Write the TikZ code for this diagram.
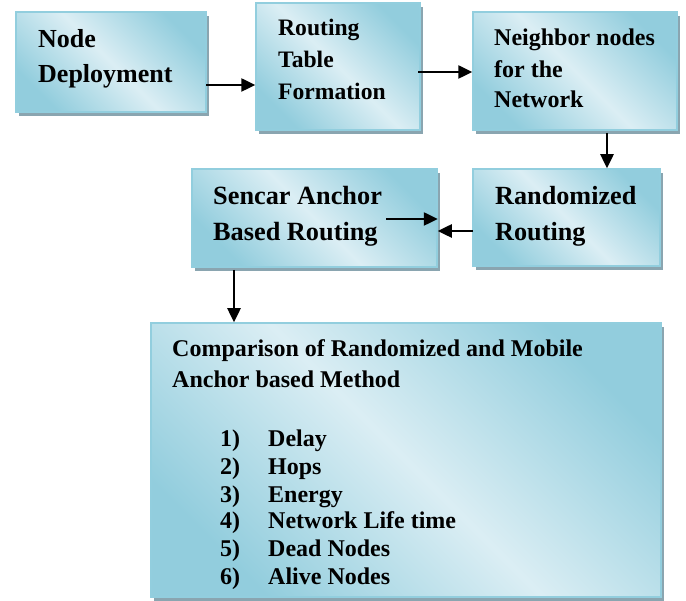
\documentclass[tikz,border=0pt]{standalone}
\usepackage{fontspec}
\setmainfont{Liberation Serif}
\usetikzlibrary{shadows,arrows.meta,calc}
\definecolor{bdark}{RGB}{146,205,221}
\definecolor{blight}{RGB}{219,238,244}
\definecolor{bedge}{RGB}{146,206,222}
\definecolor{shgray}{RGB}{138,165,176}
\tikzset{
  box/.style={rectangle, draw=bedge, line width=1.5pt, inner sep=0pt,
    top color=bdark, bottom color=bdark, middle color=blight, shading angle=-45,
    drop shadow={shadow xshift=3pt, shadow yshift=-4pt, fill=shgray, opacity=1}},
  txt/.style={anchor=base west, inner sep=0pt, font=\bfseries\fontsize{#1}{#1}\selectfont},
  txt/.default=24,
  arr/.style={line width=2.5pt, -{Triangle[length=14pt,width=13pt]}},
}
\begin{document}
\begin{tikzpicture}[x=1pt,y=-1pt]
\useasboundingbox (0,0) rectangle (686,601);
% boxes
\node[box, minimum width=190pt, minimum height=100pt] (b1) at (111,62) {};
\node[box, minimum width=164pt, minimum height=127pt] (b2) at (338,66.5) {};
\node[box, minimum width=204pt, minimum height=118pt] (b3) at (575,71) {};
\node[box, minimum width=245pt, minimum height=98pt] (b4) at (314.5,218) {};
\node[box, minimum width=187pt, minimum height=97pt] (b5) at (566.5,217.5) {};
\node[box, minimum width=510pt, minimum height=274pt] (b6) at (406,460) {};
% texts
\node[txt=26] (t11) at (38,48) {Node};
\node[txt=26] (t12) at (38,83) {Deployment};
\node[txt=23.6] (t21) at (278,36) {Routing};
\node[txt=23.6] (t22) at (278,68) {Table};
\node[txt=23.6] (t23) at (278,100) {Formation};
\node[txt=24] (t31) at (494,46) {Neighbor nodes};
\node[txt=24] (t32) at (494,78) {for the};
\node[txt=24] (t33) at (494,108) {Network};
\node[txt=26.3] (t41) at (213,205) {Sencar Anchor};
\node[txt=26.3] (t42) at (213,241) {Based Routing};
\node[txt=26.2] (t51) at (495,205) {Randomized};
\node[txt=26.2] (t52) at (495,241) {Routing};
\node[txt=24] (t61) at (172,357) {Comparison of Randomized and Mobile};
\node[txt=24] (t62) at (172,388) {Anchor based Method};
\foreach \n/\t/\yy in {1/Delay/447, 2/Hops/475, 3/Energy/503, 4/Network Life time/529, 5/Dead Nodes/557, 6/Alive Nodes/584}{
  \node[txt=24] (n\n) at (220,\yy) {\n)};
  \node[txt=24] (i\n) at (268,\yy) {\t};
}
% connectors
\coordinate (s1) at (206,85);
\coordinate (s2) at (418,72);
\coordinate (s3) at (607,133);
\coordinate (s4) at (473,231);
\coordinate (s5) at (386,219);
\coordinate (s6) at (234,270);
\draw[arr] (s1) -- (s1 -| b2.west);
\draw[arr] (s2) -- (s2 -| b3.west);
\draw[arr] (s3) -- (s3 |- b5.north);
\draw[arr] (s4) -- (s4 -| b4.east);
\draw[arr] (s5) -- (s5 -| b4.east);
\draw[arr] (s6) -- (s6 |- b6.north);
\end{tikzpicture}
\end{document}
